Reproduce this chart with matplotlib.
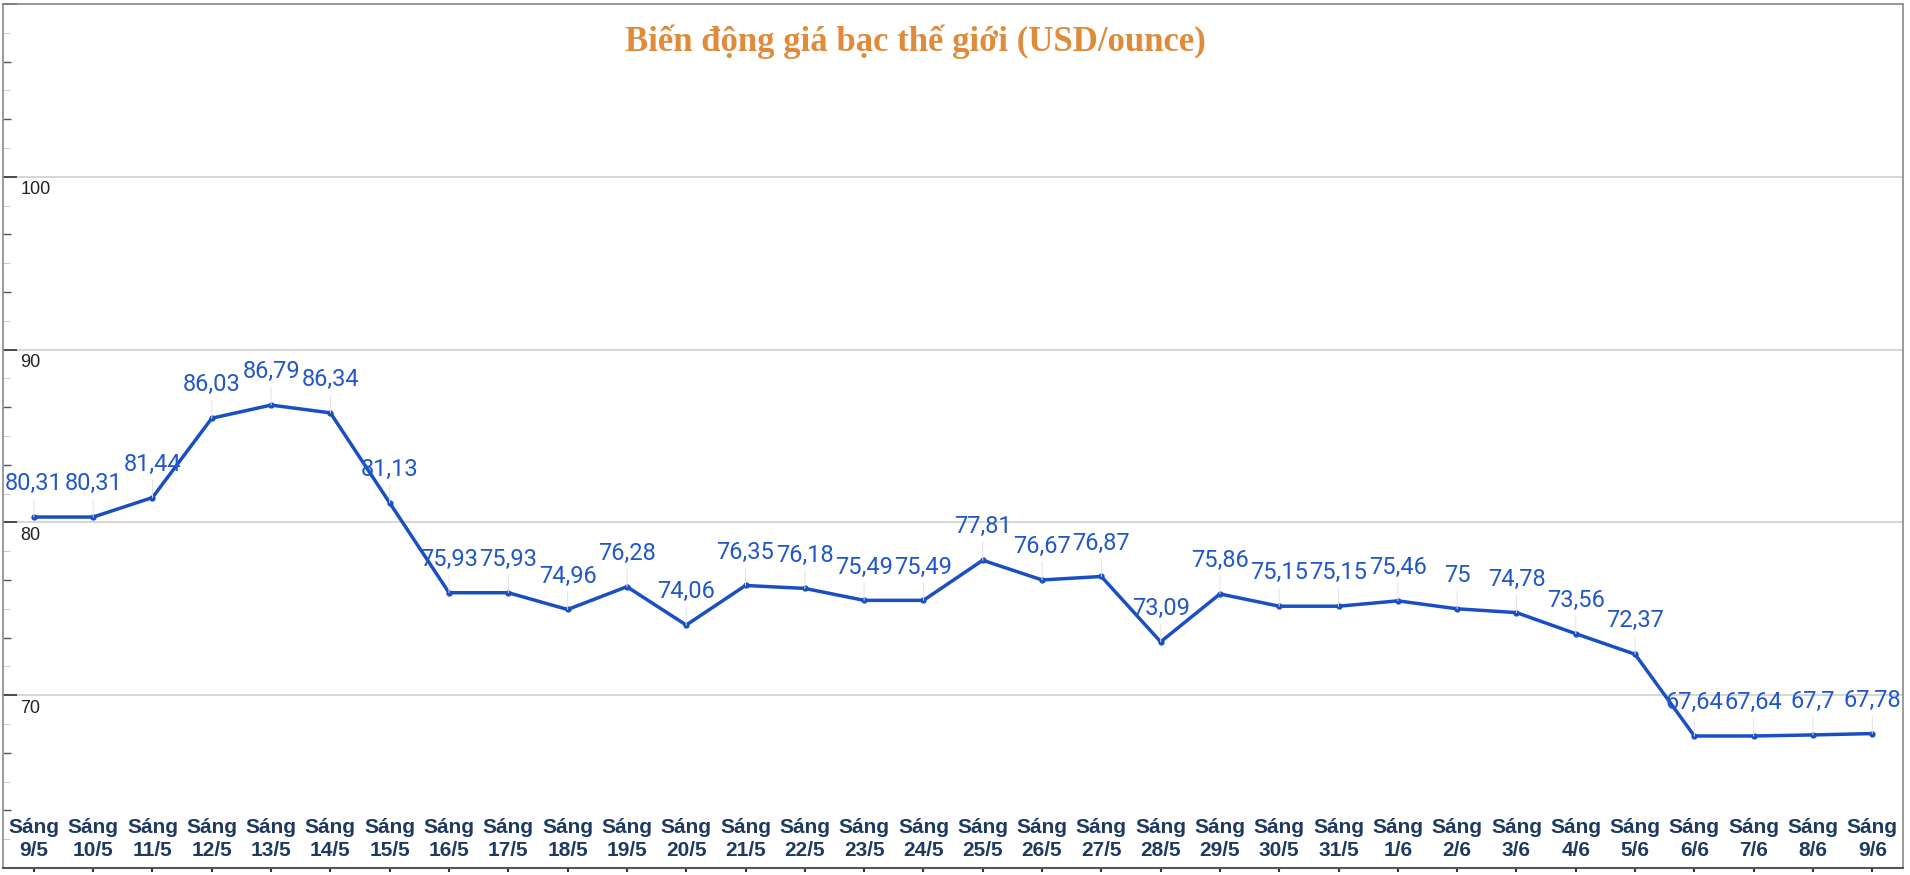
import matplotlib
matplotlib.use("Agg")
import matplotlib.pyplot as plt
from matplotlib.ticker import MultipleLocator

# Dữ liệu giá bạc (USD/ounce)
dates = ['9/5', '10/5', '11/5', '12/5', '13/5', '14/5', '15/5', '16/5', '17/5', '18/5',
         '19/5', '20/5', '21/5', '22/5', '23/5', '24/5', '25/5', '26/5', '27/5', '28/5',
         '29/5', '30/5', '31/5', '1/6', '2/6', '3/6', '4/6', '5/6', '6/6', '7/6', '8/6', '9/6']
prices = [80.31, 80.31, 81.44, 86.03, 86.79, 86.34, 81.13, 75.93, 75.93, 74.96,
          76.28, 74.06, 76.35, 76.18, 75.49, 75.49, 77.81, 76.67, 76.87, 73.09,
          75.86, 75.15, 75.15, 75.46, 75.0, 74.78, 73.56, 72.37, 67.64, 67.64, 67.7, 67.78]
y_labels = [70, 80, 90, 100]

TITLE = 'Biến động giá bạc thế giới (USD/ounce)'
LINE_COLOR = '#1a4fc4'
LABEL_COLOR = '#2157c9'
XLABEL_COLOR = '#1e3a60'

fig = plt.figure(figsize=(19.1, 8.75), dpi=100)
ax = fig.add_axes([0.0016, 0.008, 0.9948, 0.9874])

x = list(range(len(prices)))
ax.plot(x, prices, color=LINE_COLOR, linewidth=2.5, marker='o', markersize=3.5, zorder=3)

# nhãn giá trị phía trên mỗi điểm
for i, v in zip(x, prices):
    txt = f'{v:g}'.replace('.', ',')
    ax.annotate(txt, xy=(i, v), xytext=(0, 24), textcoords='offset points',
                ha='center', va='center', fontsize=17, family='Roboto', color=LABEL_COLOR,
                arrowprops=dict(arrowstyle='-', color='#e2e2e2', lw=0.7, shrinkA=1, shrinkB=0),
                zorder=4)

ax.set_xlim(-0.52, len(prices) - 0.48)
ax.set_ylim(60, 110)

# trục y
ax.yaxis.set_major_locator(MultipleLocator(10))
ax.yaxis.set_minor_locator(MultipleLocator(10 / 3))
ax.tick_params(axis='y', which='major', direction='in', length=10, width=1.2, color='#333333', labelleft=False)
ax.tick_params(axis='y', which='minor', direction='in', length=6, width=1.0, color='#555555')

# vạch phụ mờ
sec = ax.secondary_yaxis('left')
sec.spines['left'].set_visible(False)
sec.yaxis.set_major_locator(MultipleLocator(10 / 6))
sec.tick_params(axis='y', direction='in', length=5, width=0.8, color='#cccccc', labelleft=False)

for v in y_labels:
    ax.text(0.009, v - 0.75, str(v), transform=ax.get_yaxis_transform(), ha='left', va='center',
            fontsize=13, family='Liberation Sans', color='#222222')

ax.grid(axis='y', which='major', color='#cfcfcf', linewidth=1.2)
ax.set_axisbelow(True)

# trục x
ax.set_xticks(x)
ax.set_xticklabels(['Sáng\n' + d for d in dates], fontsize=15, fontweight='bold',
                   family='Liberation Sans', color=XLABEL_COLOR, linespacing=1.25)
ax.tick_params(axis='x', direction='out', length=3, width=1.5, color='#333333', pad=-39)

for side in ['left', 'right', 'top']:
    ax.spines[side].set_color('#8a8a8a')
    ax.spines[side].set_linewidth(1.2)
ax.spines['bottom'].set_color('#555555')
ax.spines['bottom'].set_linewidth(1.5)

fig.text(0.479, 0.952, TITLE, ha='center', va='center', fontsize=25, fontweight='bold',
         family='Liberation Serif', color='#e08b3a')

fig.savefig('out.png', dpi=100)
